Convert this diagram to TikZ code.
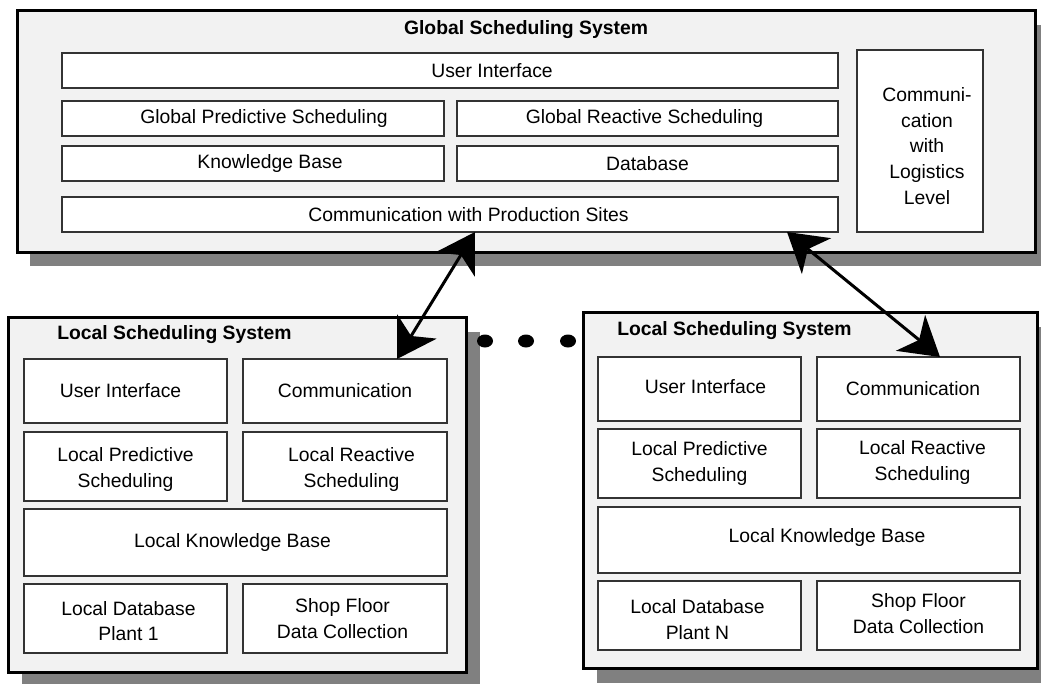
\documentclass[tikz,border=0pt]{standalone}
\usepackage{fontspec}
\setmainfont{Liberation Sans}
\usetikzlibrary{arrows.meta,shapes.geometric,shadows}
\definecolor{framefill}{HTML}{F2F2F2}
\definecolor{shadowgray}{HTML}{808080}
\definecolor{edgegray}{HTML}{333333}
\tikzset{
  ibox/.style={draw=edgegray, line width=1pt, fill=white, inner sep=0pt, outer sep=0pt},
  itext/.style={align=center, inner sep=0pt, font=\fontsize{14.5}{19.25}\selectfont},
  frame/.style={draw=black, line width=2.25pt, fill=framefill, inner sep=0pt, outer sep=0pt,
    drop shadow={shadow xshift=9.75pt, shadow yshift=-10.5pt, fill=shadowgray, opacity=1}},
  titletext/.style={inner sep=0pt, font=\fontsize{14.5}{19}\selectfont\bfseries},
  dotmark/.style={ellipse, fill=black, inner sep=0pt, minimum width=12pt, minimum height=9.75pt},
  conn/.style={line width=2.25pt, <->},
  >={Stealth[length=28.5pt, width=34.5pt, inset=8.25pt]}
}
% name x1 y1 x2 y2 dx dy text  (pixel units)
\newcommand{\pbox}[8]{%
  \node[ibox, minimum width={(#4-#2)*0.75pt}, minimum height={(#5-#3)*0.75pt}] (#1) at ({(#2+#4)/2},{(#3+#5)/2}) {};
  \node[itext] (#1-t) at ([xshift={(#6)*0.75pt}, yshift={-1*(#7)*0.75pt}]#1.center) {#8};
}
\newcommand{\pframe}[5]{%
  \node[frame, minimum width={(#4-#2)*0.75pt}, minimum height={(#5-#3)*0.75pt}] (#1) at ({(#2+#4)/2},{(#3+#5)/2}) {};
}
\begin{document}
\begin{tikzpicture}[x=0.75pt, y=-0.75pt]
\useasboundingbox (0,0) rectangle (1041,684);

% ---------- Global scheduling system ----------
\pframe{global}{17}{11}{1035}{252}
\node[titletext] (gtitle) at (526,30) {Global Scheduling System};
\pbox{gui}{62}{53}{838}{88}{42}{0}{User Interface}
\pbox{gpred}{62}{101}{444}{136}{11}{0}{Global Predictive Scheduling}
\pbox{greact}{457}{101}{838}{136}{-3}{0}{Global Reactive Scheduling}
\pbox{gkb}{62}{146}{444}{181}{17}{0}{Knowledge Base}
\pbox{gdb}{457}{146}{838}{181}{0}{0}{Database}
\pbox{gcomm}{62}{197}{838}{232}{18.5}{0}{Communication with Production Sites}
\pbox{glog}{857}{50}{983}{232}{7}{5}{Communi-\\cation\\with\\Logistics\\Level}

% ---------- Local scheduling system (left) ----------
\pframe{local1}{8.5}{317.5}{466.5}{672.5}
\node[titletext, anchor=west] (l1title) at (57,335) {Local Scheduling System};
\pbox{lui}{24}{359}{227}{423}{-5}{0}{User Interface}
\pbox{lcomm}{243}{359}{447}{423}{0}{0}{Communication}
\pbox{lpred}{24}{432}{227}{501}{0}{3}{Local Predictive\\Scheduling}
\pbox{lreact}{243}{432}{447}{501}{6.5}{3}{Local Reactive\\Scheduling}
\pbox{lkb}{24}{509}{447}{576}{-3}{0}{Local Knowledge Base}
\pbox{ldb}{24}{584}{227}{653}{3}{2.5}{Local Database\\Plant 1}
\pbox{lshop}{243}{584}{447}{653}{-2.5}{0}{Shop Floor\\Data Collection}

% ---------- Local scheduling system (right) ----------
\pframe{localN}{583.5}{312.5}{1037.5}{668.5}
\node[titletext, anchor=west] (lNtitle) at (617,331) {Local Scheduling System};
\pbox{rui}{598}{357}{801}{421}{6}{-2}{User Interface}
\pbox{rcomm}{817}{357}{1020}{421}{-5.5}{0}{Communication}
\pbox{rpred}{598}{429}{801}{498}{0}{0}{Local Predictive\\Scheduling}
\pbox{rreact}{817}{429}{1020}{498}{4}{-1}{Local Reactive\\Scheduling}
\pbox{rkb}{598}{507}{1020}{573}{18}{-3}{Local Knowledge Base}
\pbox{rdb}{598}{581}{801}{650}{-2}{4}{Local Database\\Plant N}
\pbox{rshop}{817}{581}{1020}{650}{0}{-2}{Shop Floor\\Data Collection}

% ---------- dots ----------
\node[dotmark] (d1) at (485,341) {};
\node[dotmark] (d2) at (526,341) {};
\node[dotmark] (d3) at (568,341) {};

% ---------- connectors ----------
\draw[conn] ([xshift=18.75pt]gcomm.south) -- ([xshift=39pt]lcomm.north);
\draw[conn] ([xshift=252.75pt]gcomm.south) -- ([xshift=16.125pt]rcomm.north);
\end{tikzpicture}
\end{document}
